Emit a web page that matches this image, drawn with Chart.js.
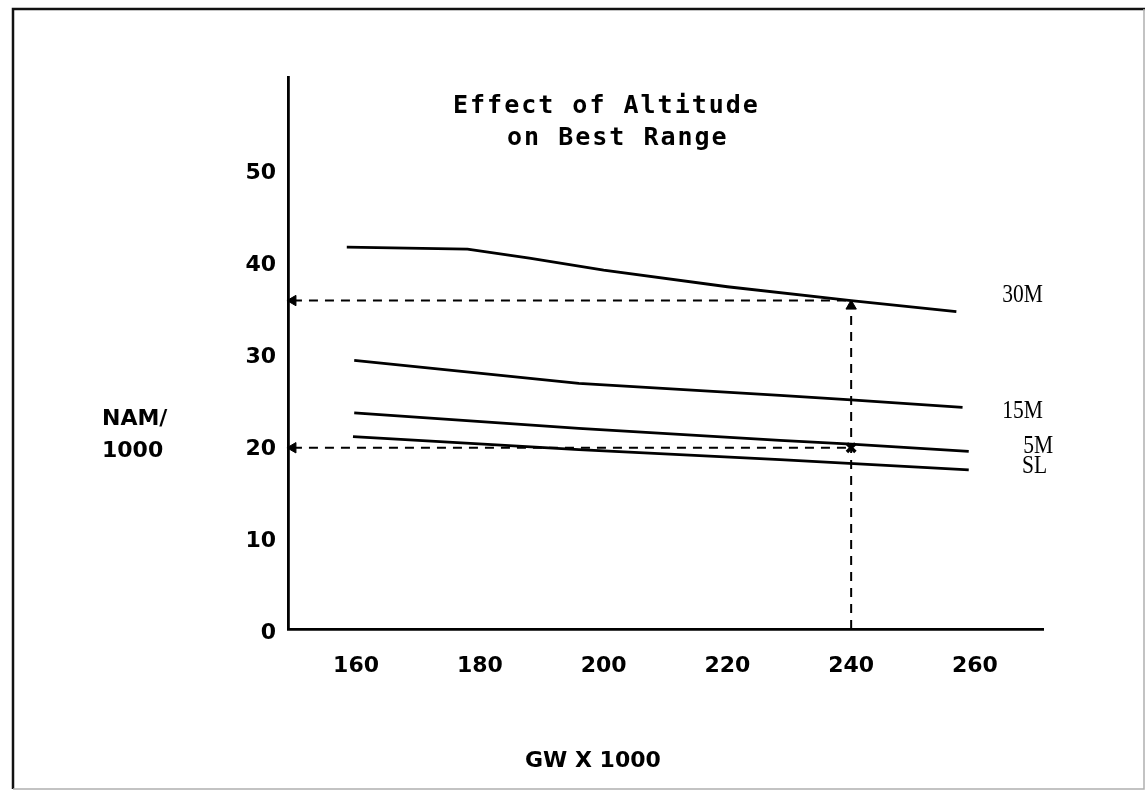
<!DOCTYPE html>
<html>
<head>
<meta charset="utf-8">
<script src="https://cdn.jsdelivr.net/npm/chart.js@4.4.0/dist/chart.umd.min.js"></script>
<style>
  html, body { margin: 0; padding: 0; background: #fff; }
</style>
</head>
<body>
<canvas id="chartCanvas" width="1146" height="791"></canvas>
<script>
// gross weight (x1000) where each curve was read, and NAM/1000 at those points
const gw30 = [158.5, 178, 188, 200, 220, 240, 257];
const nam30 = [41.5, 41.3, 40.3, 39.0, 37.2, 35.7, 34.5];
const gw15 = [159.7, 196, 228.5, 240, 258];
const nam15 = [29.2, 26.7, 25.4, 24.9, 24.1];
const gw5 = [159.7, 196, 228.5, 240, 259];
const nam5 = [23.5, 21.8, 20.5, 20.1, 19.3];
const gwSL = [159.5, 196, 228.5, 259];
const namSL = [20.9, 19.5, 18.4, 17.3];

// curve names at the right end
const curveLabels = ["30M", "15M", "5M", "SL"];
const labelGW = [264.4, 264.4, 267.8, 267.6];
const labelNam = [36.3, 23.6, 19.8, 17.7];

// example read-off at 240 (dashed guides)
const guideGW = 240;
const guideNamHigh = 35.7;
const guideNamLow = 19.7;

const xTicks = [160, 180, 200, 220, 240, 260];
const yTicks = [0, 10, 20, 30, 40, 50];
const xMin = 149, xMax = 271;
const yMin = 0, yMax = 60;

const toPts = (xs, ys) => xs.map((x, i) => ({ x, y: ys[i] }));

const curve = (xs, ys) => ({
  data: toPts(xs, ys),
  showLine: true,
  borderColor: "#000",
  borderWidth: 2.8,
  pointRadius: 0,
  tension: 0,
});

const guide = (pts, radius, style, rotation, pbw) => ({
  data: pts,
  showLine: true,
  borderColor: "#000",
  backgroundColor: "#000",
  borderWidth: 2,
  borderDash: [9, 7],
  pointRadius: radius,
  pointStyle: style,
  pointRotation: rotation,
  pointBorderWidth: pbw || 1,
  clip: false,
});

// frame, title, axis names and curve names
const paperPlugin = {
  id: "paper",
  afterDraw(chart) {
    const ctx = chart.ctx;
    const xs = chart.scales.x, ys = chart.scales.y;
    ctx.save();

    ctx.strokeStyle = "#111";
    ctx.lineWidth = 2.5;
    ctx.beginPath();
    ctx.moveTo(13, 789); ctx.lineTo(13, 9); ctx.lineTo(1145, 9);
    ctx.stroke();
    ctx.strokeStyle = "#b0b0b0";
    ctx.lineWidth = 1.5;
    ctx.beginPath();
    ctx.moveTo(13, 789); ctx.lineTo(1144, 789); ctx.lineTo(1144, 9);
    ctx.stroke();

    ctx.fillStyle = "#000";
    ctx.textAlign = "left";
    ctx.textBaseline = "alphabetic";

    ctx.font = "bold 25px 'DejaVu Sans Mono'";
    ctx.letterSpacing = "2px";
    ctx.fillText("Effect of Altitude", 453, 113);
    ctx.fillText("on Best Range", 507, 145);
    ctx.letterSpacing = "0px";

    ctx.font = "bold 22px 'DejaVu Sans'";
    ctx.fillText("NAM/", 102, 425);
    ctx.fillText("1000", 102, 457);
    ctx.fillText("GW X 1000", 525, 767);

    ctx.font = "25px 'Liberation Serif'";
    ctx.textBaseline = "middle";
    curveLabels.forEach((t, i) => {
      ctx.save();
      ctx.translate(xs.getPixelForValue(labelGW[i]), ys.getPixelForValue(labelNam[i]));
      ctx.scale(0.86, 1);
      ctx.fillText(t, 0, 0);
      ctx.restore();
    });

    ctx.restore();
  },
};

const ctx = document.getElementById("chartCanvas").getContext("2d");

new Chart(ctx, {
  type: "scatter",
  data: {
    datasets: [
      curve(gw30, nam30),
      curve(gw15, nam15),
      curve(gw5, nam5),
      curve(gwSL, namSL),
      guide([{ x: xMin + 0.8, y: guideNamHigh }, { x: guideGW, y: guideNamHigh }], [6, 0], "triangle", -90),
      guide([{ x: xMin + 0.8, y: guideNamLow }, { x: guideGW, y: guideNamLow }], [6, 6], ["triangle", "crossRot"], [-90, 0], [1, 3.5]),
      guide([{ x: guideGW, y: yMin }, { x: guideGW, y: guideNamHigh - 0.6 }], [0, 6], "triangle", 0),
    ],
  },
  options: {
    responsive: false,
    animation: false,
    events: [],
    layout: { padding: { left: 0, right: 103, top: 77, bottom: 0 } },
    plugins: {
      legend: { display: false },
      tooltip: { enabled: false },
      title: { display: false },
    },
    scales: {
      x: {
        type: "linear",
        min: xMin,
        max: xMax,
        afterFit: s => { s.height = 162; },
        afterBuildTicks: s => { s.ticks = xTicks.map(v => ({ value: v })); },
        grid: { display: false, drawTicks: false },
        border: { display: true, color: "#000", width: 2.8 },
        ticks: {
          color: "#000",
          padding: 24,
          font: { family: "'DejaVu Sans'", size: 22, weight: "bold" },
          callback: v => String(v),
        },
      },
      y: {
        type: "linear",
        min: yMin,
        max: yMax,
        afterFit: s => { s.width = 288; },
        afterBuildTicks: s => { s.ticks = yTicks.map(v => ({ value: v })); },
        grid: { display: false, drawTicks: false },
        border: { display: true, color: "#000", width: 2.8 },
        ticks: {
          color: "#000",
          padding: 12,
          labelOffset: 4,
          font: { family: "'DejaVu Sans'", size: 22, weight: "bold" },
          callback: v => String(v),
        },
      },
    },
  },
  plugins: [paperPlugin],
});
</script>
</body>
</html>
